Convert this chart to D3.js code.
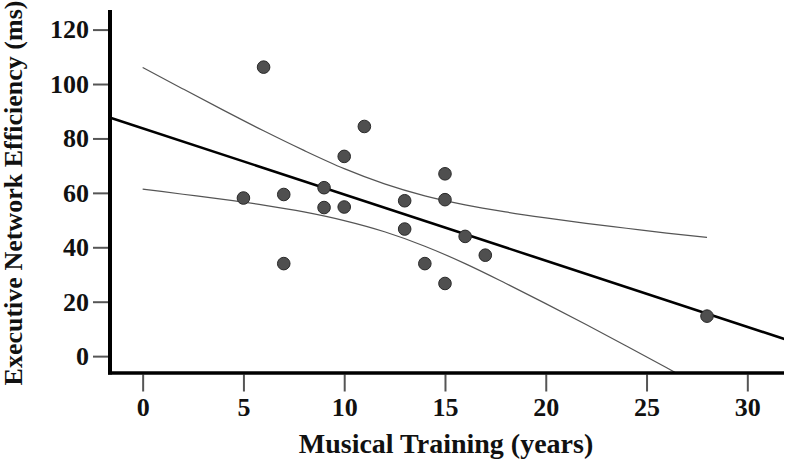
<!DOCTYPE html>
<html>
<head>
<meta charset="utf-8">
<script src="https://cdn.jsdelivr.net/npm/d3@7"></script>
<style>
  html, body { margin: 0; padding: 0; background: #fff; }
  svg { display: block; }
  text { font-family: "Liberation Serif", "Times New Roman", serif; font-weight: bold; fill: #111; }
</style>
</head>
<body>
<div id="chart"></div>
<script>
// Musical training (years) vs executive network efficiency (ms)
const training = [6, 5, 7, 7, 9, 9, 10, 10, 11, 13, 13, 14, 15, 15, 15, 16, 17, 28];
const efficiency = [106.2, 58.1, 59.4, 34.0, 61.9, 54.6, 73.4, 54.8, 84.4, 57.1, 46.7, 34.0, 67.0, 57.5, 26.7, 44.0, 37.1, 14.7];

// fitted line, read at both ends of the plot
const fitX = [-2, 32];
const fitY = [88.6, 5.9];

// 95% confidence band
const bandX = [0, 2, 4, 6, 8, 10, 12, 14, 16, 18, 20, 22, 24, 26, 28];
const bandUpper = [106.1, 98.2, 90.4, 82.8, 75.6, 68.9, 63.3, 58.9, 55.6, 53.0, 50.8, 48.8, 47.0, 45.2, 43.6];
const bandLower = [61.4, 59.5, 57.6, 55.5, 53.0, 49.8, 45.7, 40.4, 34.0, 26.8, 19.3, 11.6, 3.7, -4.3, -12.4];

const xTicks = [0, 5, 10, 15, 20, 25, 30];
const yTicks = [0, 20, 40, 60, 80, 100, 120];

const width = 787;
const height = 466;

const svg = d3.select("#chart")
  .append("svg")
  .attr("width", width)
  .attr("height", height);

const plotLeft = 110, plotRight = 784, plotTop = 10, plotBottom = 373;

const x = d3.scaleLinear().domain([-1.62, 31.82]).range([plotLeft, plotRight]);
const y = d3.scaleLinear().domain([-6.2, 127.2]).range([plotBottom, plotTop]);

svg.append("defs").append("clipPath")
  .attr("id", "plot")
  .append("rect")
  .attr("x", plotLeft)
  .attr("y", plotTop)
  .attr("width", plotRight - plotLeft)
  .attr("height", plotBottom - plotTop);

const plot = svg.append("g").attr("clip-path", "url(#plot)");

// confidence band lines
const bandLine = d3.line().curve(d3.curveMonotoneX).x(d => x(d[0])).y(d => y(d[1]));
[bandUpper, bandLower].forEach(vals => {
  plot.append("path")
    .datum(bandX.map((v, i) => [v, vals[i]]))
    .attr("d", bandLine)
    .attr("fill", "none")
    .attr("stroke", "#555")
    .attr("stroke-width", 1.2);
});

// fit line
plot.append("path")
  .datum(fitX.map((v, i) => [v, fitY[i]]))
  .attr("d", d3.line().x(d => x(d[0])).y(d => y(d[1])))
  .attr("fill", "none")
  .attr("stroke", "#000")
  .attr("stroke-width", 2.6);

// points
svg.append("g")
  .selectAll("circle")
  .data(training.map((t, i) => ({ t, e: efficiency[i] })))
  .enter()
  .append("circle")
  .attr("cx", d => x(d.t))
  .attr("cy", d => y(d.e))
  .attr("r", 6.3)
  .attr("fill", "#4f4f4f")
  .attr("stroke", "#2a2a2a")
  .attr("stroke-width", 1);

// axes
const yAxis = svg.append("g")
  .attr("transform", `translate(${plotLeft - 2},0)`)
  .call(d3.axisLeft(y).tickValues(yTicks).tickSize(15).tickPadding(4));
const xAxis = svg.append("g")
  .attr("transform", `translate(0,${plotBottom + 1.5})`)
  .call(d3.axisBottom(x).tickValues(xTicks).tickSize(17).tickPadding(6));

[yAxis, xAxis].forEach(g => {
  g.select(".domain").remove();
  g.selectAll(".tick line").attr("stroke", "#555").attr("stroke-width", 2);
  g.selectAll(".tick text")
    .attr("fill", "#111")
    .style("font-size", "26px")
    .style("font-family", "'Liberation Serif', 'Times New Roman', serif")
    .style("font-weight", "bold");
});

// axis lines
svg.append("line")
  .attr("x1", plotLeft).attr("x2", plotLeft)
  .attr("y1", plotTop).attr("y2", plotBottom + 1.5)
  .attr("stroke", "#000").attr("stroke-width", 4);
svg.append("line")
  .attr("x1", plotLeft - 2).attr("x2", plotRight)
  .attr("y1", plotBottom).attr("y2", plotBottom)
  .attr("stroke", "#000").attr("stroke-width", 3.5);

// titles
svg.append("text")
  .attr("x", 446)
  .attr("y", 453)
  .attr("text-anchor", "middle")
  .style("font-size", "28px")
  .text("Musical Training (years)");

svg.append("text")
  .attr("transform", "translate(22,193) rotate(-90)")
  .attr("text-anchor", "middle")
  .style("font-size", "26px")
  .text("Executive Network Efficiency (ms)");
</script>
</body>
</html>
